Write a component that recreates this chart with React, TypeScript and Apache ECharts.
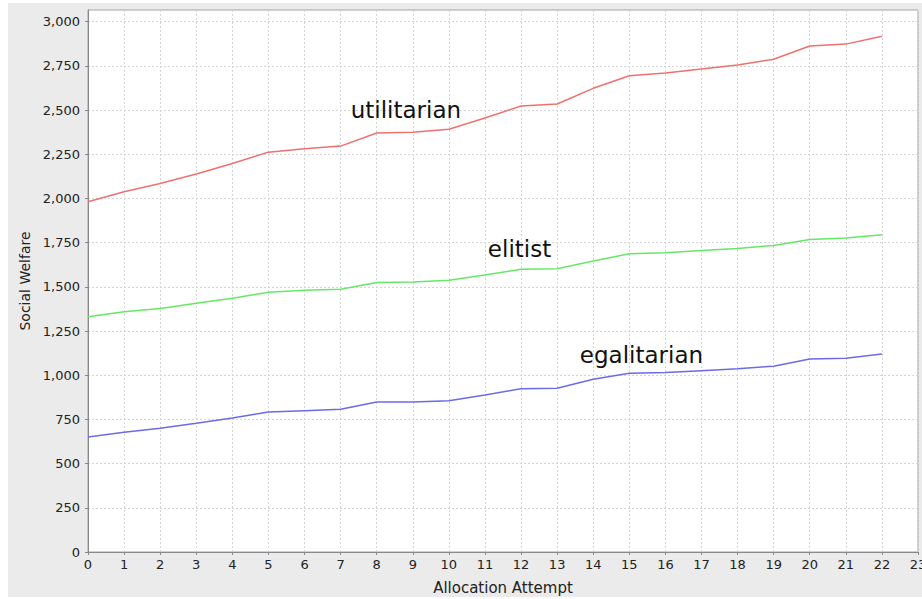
import React, { useEffect, useRef } from "react";
import * as echarts from "echarts";

const attempts = Array.from({ length: 23 }, (_, i) => i);
const utilitarian = [1981, 2038, 2085, 2138, 2198, 2262, 2281, 2296, 2370, 2374, 2391, 2455, 2523, 2534, 2623, 2694, 2709, 2732, 2755, 2787, 2862, 2873, 2918];
const elitist = [1331, 1359, 1378, 1407, 1435, 1469, 1480, 1486, 1525, 1527, 1537, 1567, 1599, 1602, 1646, 1687, 1693, 1706, 1717, 1734, 1768, 1776, 1795];
const egalitarian = [650, 677, 700, 728, 758, 792, 799, 807, 848, 848, 856, 888, 924, 926, 977, 1011, 1015, 1026, 1037, 1051, 1092, 1096, 1120];
const seriesNames = ["utilitarian", "elitist", "egalitarian"];
const labelAt = [[7.28, 2500], [11.08, 1714], [13.63, 1114]];

export default function App() {
  const ref = useRef<HTMLDivElement>(null);
  useEffect(() => {
    document.body.style.overflow = "hidden";
    const chart = echarts.init(ref.current!, null, { renderer: "svg" });
    const font = "'DejaVu Sans', sans-serif";
    const colors = ["#f07070", "#66e866", "#6b6be8"];
    const data = [utilitarian, elitist, egalitarian];
    chart.setOption({
      animation: false,
      backgroundColor: "#ebebeb",
      grid: {
        left: 80,
        top: 7,
        right: 4,
        bottom: 45,
        outerBoundsMode: "none",
        containLabel: false,
        backgroundColor: "#ffffff",
        show: true,
        borderColor: "#a0a0a0",
        borderWidth: 1,
      },
      xAxis: {
        type: "value",
        min: 0,
        max: 23,
        interval: 1,
        name: "Allocation Attempt",
        nameLocation: "middle",
        nameGap: 28,
        nameTextStyle: { fontFamily: font, fontSize: 15, color: "#222" },
        axisLine: { lineStyle: { color: "#888", width: 1 } },
        axisTick: { show: true, length: 3, lineStyle: { color: "#888" } },
        axisLabel: { fontFamily: font, fontSize: 13, color: "#222", margin: 6 },
        splitLine: { show: true, lineStyle: { color: "#d4d4d4", type: [2, 2], width: 1 } },
      },
      yAxis: {
        type: "value",
        min: 0,
        max: 3066,
        interval: 250,
        name: "Social Welfare",
        nameLocation: "middle",
        nameGap: 55,
        nameTextStyle: { fontFamily: font, fontSize: 14, color: "#222" },
        axisLine: { show: true, lineStyle: { color: "#888", width: 1 } },
        axisTick: { show: true, length: 3, lineStyle: { color: "#888" } },
        axisLabel: {
          fontFamily: font,
          fontSize: 13,
          color: "#222",
          margin: 8,
          showMaxLabel: false,
          formatter: (v: number) => (v % 250 === 0 ? v.toLocaleString("en-US") : ""),
        },
        splitLine: { show: true, lineStyle: { color: "#d4d4d4", type: [2, 2], width: 1 } },
      },
      series: seriesNames.map((name, i) => ({
        name,
        type: "line",
        data: attempts.map((x, j) => [x, data[i][j]]),
        showSymbol: false,
        lineStyle: { color: colors[i], width: 1.5 },
        itemStyle: { color: colors[i] },
        z: 3,
        markPoint: {
          symbol: "circle",
          symbolSize: 0,
          silent: true,
          data: [
            {
              coord: labelAt[i],
              label: {
                show: true,
                formatter: name,
                position: "right",
                distance: 0,
                fontFamily: font,
                fontSize: 23,
                color: "#111",
              },
            },
          ],
        },
      })),
    });
    return () => chart.dispose();
  }, []);
  return (
    <div
      ref={ref}
      style={{ position: "fixed", left: 8, top: 3, width: 914, height: 594 }}
    />
  );
}
